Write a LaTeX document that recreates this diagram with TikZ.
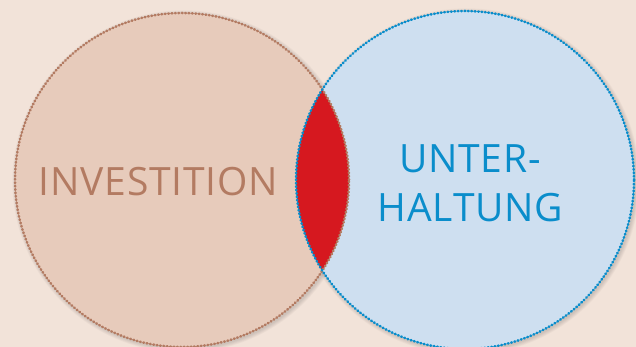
\documentclass[tikz,border=0pt]{standalone}
\usepackage{fontspec}
\setmainfont{Open Sans}[LetterSpace=2]
\definecolor{bgcol}{HTML}{F2E3D9}
\definecolor{invfill}{HTML}{E7CBBB}
\definecolor{invline}{HTML}{B37B62}
\definecolor{unfill}{HTML}{CEDFF0}
\definecolor{unline}{HTML}{0A8DCB}
\definecolor{lens}{HTML}{D6181F}
\tikzset{
  ring/.style={line width=2.5pt, dash pattern=on 0.8pt off 2.6pt, line cap=round},
  label/.style={inner sep=0pt, anchor=base, font=\fontsize{39}{44}\selectfont},
}
\begin{document}
\begin{tikzpicture}[x=1pt,y=-1pt]
  \fill[bgcol] (0,0) rectangle (636,347);
  \useasboundingbox (0,0) rectangle (636,347);
  \coordinate (cL) at (182,180);
  \coordinate (cR) at (465,180);
  % soft shadows
  \foreach \k in {1,...,6}{
    \fill[black, opacity=0.025] ([shift={(1.5,1.5)}]cL) circle[radius=167pt+\k*0.7pt];
    \fill[black, opacity=0.025] ([shift={(1.5,1.5)}]cR) circle[radius=169pt+\k*0.7pt];
  }
  % discs
  \fill[invfill] (cL) circle[radius=167pt];
  \fill[unfill] (cR) circle[radius=169pt];
  % overlap
  \begin{scope}
    \clip (cL) circle[radius=167pt];
    \fill[lens] (cR) circle[radius=169pt];
  \end{scope}
  % dotted outlines
  \draw[ring, invline] (cL) circle[radius=167pt];
  \draw[ring, unline] (cR) circle[radius=169pt];
  % labels
  \node[label, text=invline] (inv) at (158.5,196) {INVESTITION};
  \node[label, text=unline] (unt1) at (470,173) {UNTER-};
  \node[label, text=unline] (unt2) at (470.5,221) {HALTUNG};
\end{tikzpicture}
\end{document}
